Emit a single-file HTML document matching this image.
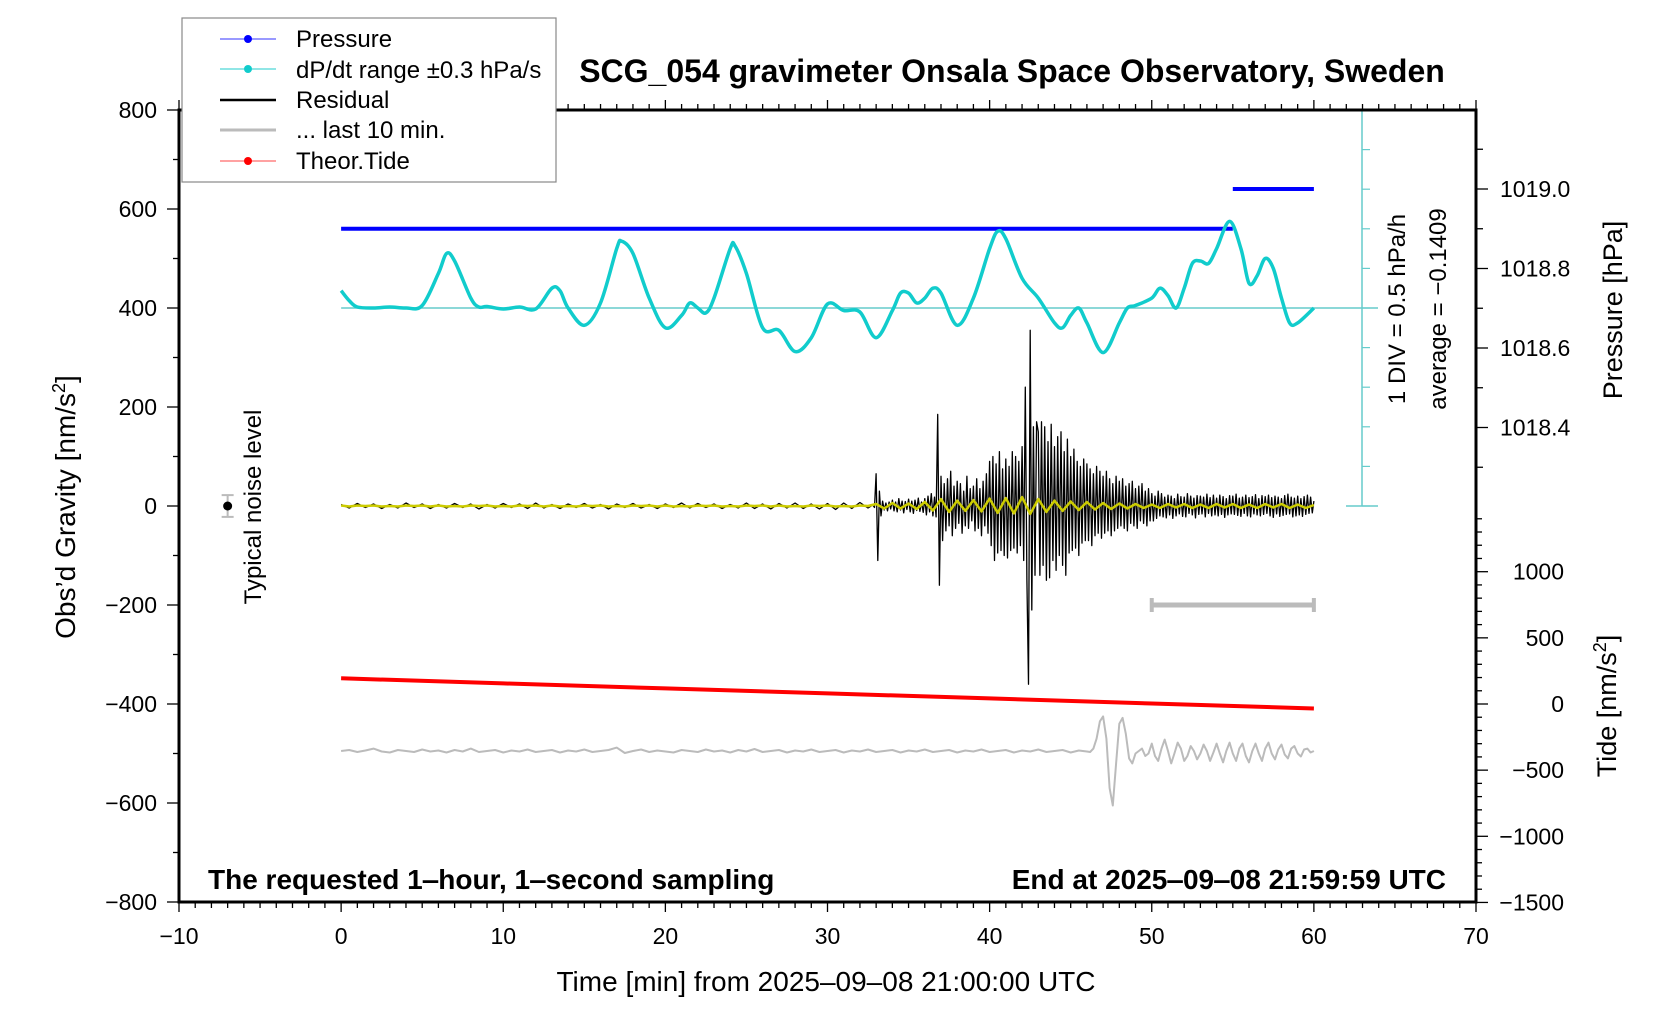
<!DOCTYPE html>
<html><head><meta charset="utf-8">
<style>
html,body{margin:0;padding:0;background:#fff;}
svg{display:block;font-family:"Liberation Sans",Arial,sans-serif;}
</style></head>
<body>
<svg id="chart" width="1676" height="1020" viewBox="0 0 1676 1020" xmlns="http://www.w3.org/2000/svg">
<rect x="0" y="0" width="1676" height="1020" fill="#fff"/>
<g id="marks"></g>
<g id="axes"></g>
<text x="1012" y="82" font-size="32" font-weight="bold" text-anchor="middle">SCG_054 gravimeter Onsala Space Observatory, Sweden</text>
<text x="208" y="889" font-size="28" font-weight="bold">The requested 1‒hour, 1‒second sampling</text>
<text x="1446" y="889" font-size="28" font-weight="bold" text-anchor="end">End at 2025‒09‒08 21:59:59 UTC</text>
<text x="826" y="991" font-size="28" text-anchor="middle">Time [min] from 2025‒09‒08 21:00:00 UTC</text>
<text transform="translate(75,507) rotate(-90)" font-size="28" text-anchor="middle">Obs’d Gravity [nm/s<tspan baseline-shift="super" font-size="18">2</tspan>]</text>
<text transform="translate(261,507) rotate(-90)" font-size="24" text-anchor="middle">Typical noise level</text>
<text transform="translate(1405,309) rotate(-90)" font-size="24" text-anchor="middle">1 DIV = 0.5 hPa/h</text>
<text transform="translate(1446,309) rotate(-90)" font-size="24" text-anchor="middle">average = −0.1409</text>
<text transform="translate(1622,310) rotate(-90)" font-size="27" text-anchor="middle">Pressure [hPa]</text>
<text transform="translate(1616,706) rotate(-90)" font-size="27" text-anchor="middle">Tide [nm/s<tspan baseline-shift="super" font-size="18">2</tspan>]</text>
<g>
<rect x="182" y="18" width="374" height="164" fill="#fff" stroke="#888" stroke-width="1.2"/>
<g><line x1="220" y1="39" x2="276" y2="39" stroke="#33f" stroke-width="1"/><circle cx="248" cy="39" r="4" fill="#00f"/><text x="296" y="47" font-size="24">Pressure</text></g>
<g><line x1="220" y1="69" x2="276" y2="69" stroke="#2cc" stroke-width="1"/><circle cx="248" cy="69" r="4" fill="#1cc"/><text x="296" y="78" font-size="24">dP/dt range ±0.3 hPa/s</text></g>
<g><line x1="220" y1="100" x2="276" y2="100" stroke="#000" stroke-width="2.5"/><text x="296" y="108" font-size="24">Residual</text></g>
<g><line x1="220" y1="130" x2="276" y2="130" stroke="#bbb" stroke-width="3"/><text x="296" y="138" font-size="24">... last 10 min.</text></g>
<g><line x1="220" y1="161" x2="276" y2="161" stroke="#f44" stroke-width="1"/><circle cx="248" cy="161" r="4" fill="#f00"/><text x="296" y="169" font-size="24">Theor.Tide</text></g>
</g>
</svg>
<script>
// ---- data ----
const xTicks = [-10,0,10,20,30,40,50,60,70];
const yTicks = [800,600,400,200,0,-200,-400,-600,-800];
const pTicks = [1019.0,1018.8,1018.6,1018.4];
const tideTicks = [1000,500,0,-500,-1000,-1500];
const pressureT = [0,55,55,60];
const pressureV = [1018.9,1018.9,1019.0,1019.0];
const dpT = [0,0.5,1,2,3,4,5,6,6.5,7,8,8.5,9,10,11,12,13,13.5,14,15,16,17,17.3,18,19,20,21,21.5,22,22.5,23,24,24.3,25,26,27,28,29,30,31,32,33,34,34.5,35,35.5,36,36.5,37,38,39,40,40.5,41,42,43,44,44.5,45,45.5,46,47,48,48.5,49,50,50.5,51,51.5,52,52.5,53,53.5,54,54.8,55.5,56,56.5,57,57.5,58,58.5,59,60];
const dpV = [435,415,402,400,402,400,405,470,510,495,420,402,403,398,402,398,440,435,400,365,410,520,535,510,420,360,385,410,400,390,420,520,525,470,360,355,312,340,408,395,392,340,395,430,430,410,420,440,430,365,420,520,555,540,460,420,370,360,385,400,370,310,370,400,405,420,440,425,400,440,490,495,490,520,575,520,450,465,500,480,420,370,370,400];
const resAStart = 0, resAStep = 0.5;
const resA = [3,-4,5,-3,4,-5,3,-4,6,-3,4,-5,3,-4,5,-3,4,-6,3,-4,5,-3,4,-5,6,-4,3,-5,4,-3,5,-4,3,-6,4,-3,5,-4,3,-5,4,-3,6,-4,5,-3,4,-5,3,-4,6,-5,4,-6,5,-4,6,-5,4,-6,5,-7,6,-5,7,-4];
const resBStart = 32.8, resBStep = 0.1;
const resB = [2,-3,
65,-110,30,-20,10,-8,6,-10,8,-6,
12,-10,8,-12,15,-8,10,-14,9,-7,
14,-12,10,-15,12,-9,16,-11,8,-13,
15,-18,20,-12,25,-20,18,-22,185,-160,
60,-70,45,-50,55,-40,70,-60,40,-45,
50,-35,45,-55,30,-40,60,-45,35,-30,
40,-50,55,-45,35,-60,50,-40,65,-55,
90,-80,100,-110,85,-95,110,-90,75,-100,
95,-105,80,-90,110,-85,100,-95,90,-80,
120,-110,240,-150,-360,355,-210,160,-140,170,
150,-140,170,-120,160,-150,130,-145,165,-110,
120,-130,140,-100,150,-120,110,-140,135,-95,
100,-90,115,-85,90,-100,80,-75,95,-70,
85,-70,75,-80,65,-60,80,-55,70,-65,
60,-55,70,-50,55,-60,45,-50,60,-45,
50,-40,55,-45,40,-50,45,-35,50,-40,
35,-45,40,-30,45,-35,30,-40,35,-30,
25,-30,20,-25,30,-20,25,-22,18,-24,
22,-18,20,-25,15,-20,24,-16,19,-21,
18,-22,25,-15,20,-18,16,-24,21,-17,
20,-16,18,-22,24,-15,17,-20,22,-18,
16,-20,22,-17,19,-23,15,-18,21,-16,
20,-17,24,-19,16,-21,18,-15,22,-20,
17,-22,19,-16,23,-18,15,-20,21,-17,
19,-15,22,-20,17,-23,20,-16,18,-21,
15,-19,21,-17,24,-16,18,-22,16,-20,
20,-18,15,-21,19,-17,22,-15,18,-14,
10];
const yelStart = 0, yelStep = 0.5;
const yel = [1,-1,1,0,1,-1,0,-1,1,0,1,-1,1,-1,0,-1,1,0,1,-1,0,-1,1,0,1,-1,1,-1,0,-1,1,0,1,-1,0,-1,1,0,1,-1,1,-1,0,-1,1,0,1,-1,0,-1,1,0,1,-1,1,-1,0,-1,1,0,1,-1,0,-1,1,0,
4,-5,6,-5,5,-6,8,-9,14,-12,11,-10,12,-11,15,-14,16,-15,18,-16,14,-12,11,-10,9,-8,8,-7,6,-6,5,-5,4,-4,3,-4,4,-3,4,-4,3,-4,4,-3,4,-4,3,-4,4,-3,4,-4,3,-4,2];
const grayAStart = 0, grayAStep = 0.5;
const grayA = [-495,-493,-497,-494,-490,-496,-498,-493,-495,-497,-492,-496,-494,-498,-493,-496,-490,-497,-495,-493,-498,-494,-496,-492,-497,-495,-493,-498,-494,-496,-492,-497,-495,-493,-488,-499,-495,-492,-497,-494,-496,-498,-493,-495,-497,-492,-496,-494,-498,-493,-496,-491,-497,-495,-493,-498,-494,-496,-492,-497,-495,-493,-498,-494,-496,-492,-497,-495,-493,-498,-494,-496,-492,-497,-495,-493,-498,-494,-496,-492,-497,-495,-493,-498,-494,-496,-492,-497,-495,-493,-498,-494,-496];
const grayBStart = 46.2, grayBStep = 0.2;
const grayB = [-497,-490,-470,-435,-425,-470,-570,-605,-520,-440,-428,-460,-510,-520,-500,-495,-490,-505,-500,-480,-505,-515,-490,-472,-495,-520,-500,-478,-490,-515,-505,-485,-495,-512,-500,-482,-495,-515,-498,-480,-500,-518,-495,-478,-500,-515,-490,-480,-505,-518,-495,-480,-500,-515,-490,-478,-500,-512,-492,-482,-502,-510,-490,-485,-500,-506,-492,-490,-498,-495];
const tideT = [0,10,20,30,40,50,60];
const tideV = [194,156,118,80,42,4,-34];
const noiseX = -7, noiseY = 0, noiseErr = 22;
const last10Start = 50, last10End = 60, last10Y = -200;

// ---- scales ----
const X0 = 179, X1 = 1476, Y0 = 110, Y1 = 902;
const xs = m => X0 + (m + 10) / 80 * (X1 - X0);
const ys = g => Y0 + (800 - g) / 1600 * (Y1 - Y0);
const ps = p => 189 + (1019.0 - p) * 397.5;
const ts = t => 704 - t * 0.1323;
const NS = 'http://www.w3.org/2000/svg';
const marks = document.getElementById('marks');
const axes = document.getElementById('axes');
function mk(tag, attrs, parent){ const e = document.createElementNS(NS, tag); for (const k in attrs) e.setAttribute(k, attrs[k]); (parent||marks).appendChild(e); return e; }
function poly(pts, stroke, w, name){
  const e = mk('polyline', {points: pts.map(p => p[0].toFixed(1)+','+p[1].toFixed(1)).join(' '), fill:'none', stroke:stroke, 'stroke-width':w, 'stroke-linejoin':'round'});
  
  
  return e;
}
let e;
e = mk('line', {x1: xs(0), y1: ys(400), x2: 1378, y2: ys(400), stroke:'#6cc', 'stroke-width':1.5});


e = mk('line', {x1:1362, y1:Y0, x2:1362, y2:ys(0), stroke:'#6cc', 'stroke-width':1.5});


for (let k = 0; k <= 10; k++) { const y = Y0 + k * (ys(0) - Y0) / 10; mk('line', {x1:1362, y1:y, x2:1370, y2:y, stroke:'#6cc', 'stroke-width':1.2}); }
mk('line', {x1:1346, y1:Y0, x2:1378, y2:Y0, stroke:'#6cc', 'stroke-width':1.5});
mk('line', {x1:1346, y1:ys(0), x2:1378, y2:ys(0), stroke:'#6cc', 'stroke-width':1.5});
poly([[xs(pressureT[0]), ps(pressureV[0])],[xs(pressureT[1]), ps(pressureV[1])]], '#00f', 4, 'pressure-line-1');
poly([[xs(pressureT[2]), ps(pressureV[2])],[xs(pressureT[3]), ps(pressureV[3])]], '#00f', 4, 'pressure-line-2');
(function(){
  const pts = dpT.map((t,i) => [xs(t), ys(dpV[i])]);
  let d = 'M'+pts[0][0]+','+pts[0][1];
  for (let i = 0; i < pts.length-1; i++) {
    const p0 = pts[Math.max(i-1,0)], p1 = pts[i], p2 = pts[i+1], p3 = pts[Math.min(i+2,pts.length-1)];
    d += ' C'+(p1[0]+(p2[0]-p0[0])/6).toFixed(1)+','+(p1[1]+(p2[1]-p0[1])/6).toFixed(1)+' '+(p2[0]-(p3[0]-p1[0])/6).toFixed(1)+','+(p2[1]-(p3[1]-p1[1])/6).toFixed(1)+' '+p2[0].toFixed(1)+','+p2[1].toFixed(1);
  }
  const el = mk('path', {d:d, fill:'none', stroke:'#1cc', 'stroke-width':3.5});
  
  
})();
const resPts = resA.map((v,i) => [xs(resAStart + i*resAStep), ys(v)]).concat(resB.map((v,i) => [xs(resBStart + i*resBStep), ys(v)]));
poly(resPts, '#000', 1.3, 'residual-line');
poly(yel.map((v,i) => [xs(yelStart + i*yelStep), ys(v)]), '#cc0', 2.5, 'residual-filtered-line');
poly(grayA.map((v,i) => [xs(grayAStart + i*grayAStep), ys(v)]).concat(grayB.map((v,i) => [xs(grayBStart + i*grayBStep), ys(v)])), '#bbb', 2, 'last-10-min-line');
poly(tideT.map((t,i) => [xs(t), ts(tideV[i])]), '#f00', 4, 'tide-line');
e = mk('g', {});


mk('line', {x1:xs(last10Start), y1:ys(last10Y), x2:xs(last10End), y2:ys(last10Y), stroke:'#bbb', 'stroke-width':5}, e);
mk('line', {x1:xs(last10Start), y1:ys(last10Y)-7, x2:xs(last10Start), y2:ys(last10Y)+7, stroke:'#bbb', 'stroke-width':4}, e);
mk('line', {x1:xs(last10End), y1:ys(last10Y)-7, x2:xs(last10End), y2:ys(last10Y)+7, stroke:'#bbb', 'stroke-width':4}, e);
e = mk('g', {});


const nx = xs(noiseX), ny = ys(noiseY), ne = ys(noiseY - noiseErr) - ny;
mk('line', {x1:nx, y1:ny-ne, x2:nx, y2:ny+ne, stroke:'#bbb', 'stroke-width':2}, e);
mk('line', {x1:nx-6, y1:ny-ne, x2:nx+6, y2:ny-ne, stroke:'#bbb', 'stroke-width':2}, e);
mk('line', {x1:nx-6, y1:ny+ne, x2:nx+6, y2:ny+ne, stroke:'#bbb', 'stroke-width':2}, e);
mk('circle', {cx:nx, cy:ny, r:4.5, fill:'#000'}, e);

e = mk('rect', {x:X0, y:Y0, width:X1-X0, height:Y1-Y0, fill:'none', stroke:'#000', 'stroke-width':3}, axes);


for (let m = -10; m <= 70; m++) {
  const x = xs(m), L = (m % 10 === 0) ? 10 : 6;
  mk('line', {x1:x, y1:Y1, x2:x, y2:Y1+L, stroke:'#000', 'stroke-width':1.3}, axes);
  mk('line', {x1:x, y1:Y0, x2:x, y2:Y0-L, stroke:'#000', 'stroke-width':1.3}, axes);
}
xTicks.forEach(v => {
  const t = mk('text', {x: xs(v), y: 944, 'font-size':23, 'text-anchor':'middle'}, axes);
  t.textContent = String(v).replace('-', '−');
  
  
});
for (let g = -800; g <= 800; g += 100) {
  const y = ys(g), L = (g % 200 === 0) ? 12 : 6;
  mk('line', {x1:X0, y1:y, x2:X0-L, y2:y, stroke:'#000', 'stroke-width':1.3}, axes);
}
yTicks.forEach(v => {
  const t = mk('text', {x: 157, y: ys(v)+8, 'font-size':23, 'text-anchor':'end'}, axes);
  t.textContent = String(v).replace('-', '−');
  
  
});
for (let k = 0; k <= 8; k++) {
  const p = 1019.1 - k*0.1, y = ps(p), major = Math.abs(Math.round(p*10) % 2) === 0;
  mk('line', {x1:X1, y1:y, x2:X1+(major?12:7), y2:y, stroke:'#000', 'stroke-width':1.3}, axes);
}
pTicks.forEach(v => {
  const t = mk('text', {x: 1500, y: ps(v)+8, 'font-size':23}, axes);
  t.textContent = v.toFixed(1);
  
  
});
for (let tv = 1400; tv >= -1500; tv -= 100) {
  const y = ts(tv), major = tv % 500 === 0;
  mk('line', {x1:X1, y1:y, x2:X1+(major?12:6), y2:y, stroke:'#000', 'stroke-width':1.3}, axes);
}
tideTicks.forEach(v => {
  const t = mk('text', {x: 1564, y: ts(v)+8, 'font-size':23, 'text-anchor':'end'}, axes);
  t.textContent = String(v).replace('-', '−');
  
  
});
</script>
</body></html>
